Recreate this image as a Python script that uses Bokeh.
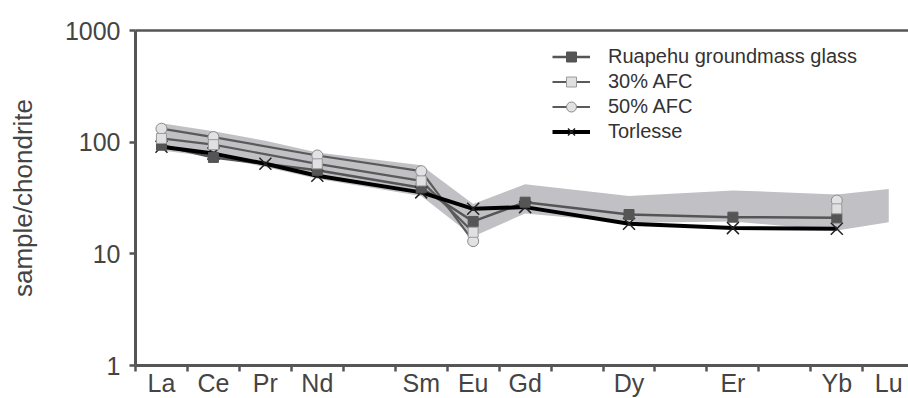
import math
from bokeh.plotting import figure
from bokeh.models import (FixedTicker, LinearAxis, Legend, LegendItem,
                          NumeralTickFormatter, Range1d)
from bokeh.embed import file_html
from bokeh.resources import INLINE

# ---------------- data ----------------
elements = ["La", "Ce", "Pr", "Nd", "Pm", "Sm", "Eu", "Gd", "Tb", "Dy", "Ho", "Er", "Tm", "Yb", "Lu"]
tick_labels = ["La", "Ce", "Pr", "Nd", "", "Sm", "Eu", "Gd", "", "Dy", "", "Er", "", "Yb", "Lu"]
N = None
ruapehu = [94, 73, N, 56, N, 39, 19.5, 29, N, 22.5, N, 21.3, N, 21, N]
afc30 = [108, 95, N, 64, N, 45, 15.6, N, N, N, N, N, N, 25.3, N]
afc50 = [132, 111, N, 76, N, 55, 13.0, N, N, N, N, N, N, 30, N]
torlesse = [91, 79, 64, 50, N, 35.5, 25.3, 26.2, N, 18.6, N, 17.0, N, 16.8, N]
band_upper = [148, 125, 103, 81, N, 62, 28, 42, N, 33, N, 37, N, 34, 38]
band_lower = [84, 74, 60, 47, N, 33, 14.3, 23, N, 19, N, 19.5, N, 16.2, 19.2]
y_ticks = [1, 10, 100, 1000]

AX = "#555555"
TXT = "#444444"


def points(vals):
    return [(i, v) for i, v in enumerate(vals) if v is not None]


def segments(vals, max_gap=2):
    pts = points(vals)
    segs, cur = [], []
    for i, v in pts:
        if cur and i - cur[-1][0] > max_gap:
            segs.append(cur)
            cur = []
        cur.append((i, v))
    if cur:
        segs.append(cur)
    segs = [s for s in segs if len(s) > 1]
    return [[a for a, _ in s] for s in segs], [[b for _, b in s] for s in segs]


p = figure(frame_width=773, frame_height=335,
           x_range=Range1d(-0.5, 14.38), y_range=Range1d(1, 1000),
           y_axis_type="log", output_backend="svg", toolbar_location=None,
           min_border_left=135, min_border_top=30, min_border_right=0,
           min_border_bottom=10)
p.background_fill_color = "white"
p.border_fill_color = "white"
p.outline_line_color = None
p.grid.visible = False

# x axis
xa = p.xaxis[0]
xa.ticker = FixedTicker(ticks=list(range(len(elements))),
                        minor_ticks=[i - 0.5 for i in range(len(elements))])
xa.major_label_overrides = {i: lab for i, lab in enumerate(tick_labels)}
xa.major_tick_out = 0
xa.major_tick_in = 0
xa.major_tick_line_color = None
xa.minor_tick_out = 6
xa.minor_tick_in = 0
xa.minor_tick_line_color = AX
xa.minor_tick_line_width = 2.5
xa.axis_line_color = AX
xa.axis_line_width = 3
xa.major_label_text_font = "Liberation Sans"
xa.major_label_text_font_size = "25px"
xa.major_label_text_color = TXT
xa.major_label_standoff = -3

# y axis
ya = p.yaxis[0]
ya.ticker = FixedTicker(ticks=y_ticks, minor_ticks=[])
ya.formatter = NumeralTickFormatter(format="0")
ya.major_tick_out = 6
ya.major_tick_in = 0
ya.major_tick_line_color = AX
ya.major_tick_line_width = 2.5
ya.minor_tick_line_color = None
ya.axis_line_color = AX
ya.axis_line_width = 3
ya.major_label_text_font = "Liberation Sans"
ya.major_label_text_font_size = "25px"
ya.major_label_text_color = TXT
ya.major_label_standoff = 9
ya.axis_label = "sample/chondrite"
ya.axis_label_text_font = "Liberation Sans"
ya.axis_label_text_font_size = "26px"
ya.axis_label_text_font_style = "normal"
ya.axis_label_text_color = TXT
ya.axis_label_standoff = 24

# top border line
top = LinearAxis(ticker=FixedTicker(ticks=[]), axis_line_color=AX, axis_line_width=2.5,
                 major_tick_line_color=None, minor_tick_line_color=None,
                 major_label_text_font_size="0px")
p.add_layout(top, "above")

# band
up = points(band_upper)
lo = points(band_lower)
bx = [i for i, _ in up] + [i for i, _ in reversed(lo)]
by = [v for _, v in up] + [v for _, v in reversed(lo)]
p.patch(bx, by, fill_color="#c1c1c5", line_color=None)

# lines
xs, ys = segments(afc50)
l50 = p.multi_line(xs, ys, line_color="#5a5a5a", line_width=2.2)
xs, ys = segments(afc30)
l30 = p.multi_line(xs, ys, line_color="#5a5a5a", line_width=2.2)
xs, ys = segments(ruapehu)
lr = p.multi_line(xs, ys, line_color="#555555", line_width=2.5)
xs, ys = segments(torlesse)
lt = p.multi_line(xs, ys, line_color="black", line_width=4)

# markers
pt = points(torlesse)
mt = p.scatter([i for i, _ in pt], [v for _, v in pt], marker="x", size=17,
               line_color="#222222", line_width=1.5)
pr = points(ruapehu)
mr = p.scatter([i for i, _ in pr], [v for _, v in pr], marker="square", size=10,
               fill_color="#555555", line_color="#555555")
p5 = points(afc50)
m5 = p.scatter([i for i, _ in p5], [v for _, v in p5], marker="circle", size=11,
               fill_color="#e2e2e4", line_color="#8a8a8a", line_width=1)
p3 = points(afc30)
m3 = p.scatter([i for i, _ in p3], [v for _, v in p3], marker="square", size=10,
               fill_color="#e0e0e2", line_color="#9a9a9a", line_width=1)

legend = Legend(items=[
    LegendItem(label="Ruapehu groundmass glass", renderers=[lr, mr]),
    LegendItem(label="30% AFC", renderers=[l30, m3]),
    LegendItem(label="50% AFC", renderers=[l50, m5]),
    LegendItem(label="Torlesse", renderers=[lt, mt]),
], location=(417, 221))
legend.border_line_color = None
legend.background_fill_alpha = 0
legend.padding = 0
legend.margin = 0
legend.spacing = 0
legend.glyph_width = 38
legend.glyph_height = 25
legend.label_height = 25
legend.label_standoff = 18
legend.label_text_font = "Liberation Sans"
legend.label_text_font_size = "20px"
legend.label_text_color = "#333333"
p.add_layout(legend, "center")

open("out.html", "w").write(file_html(p, INLINE))
